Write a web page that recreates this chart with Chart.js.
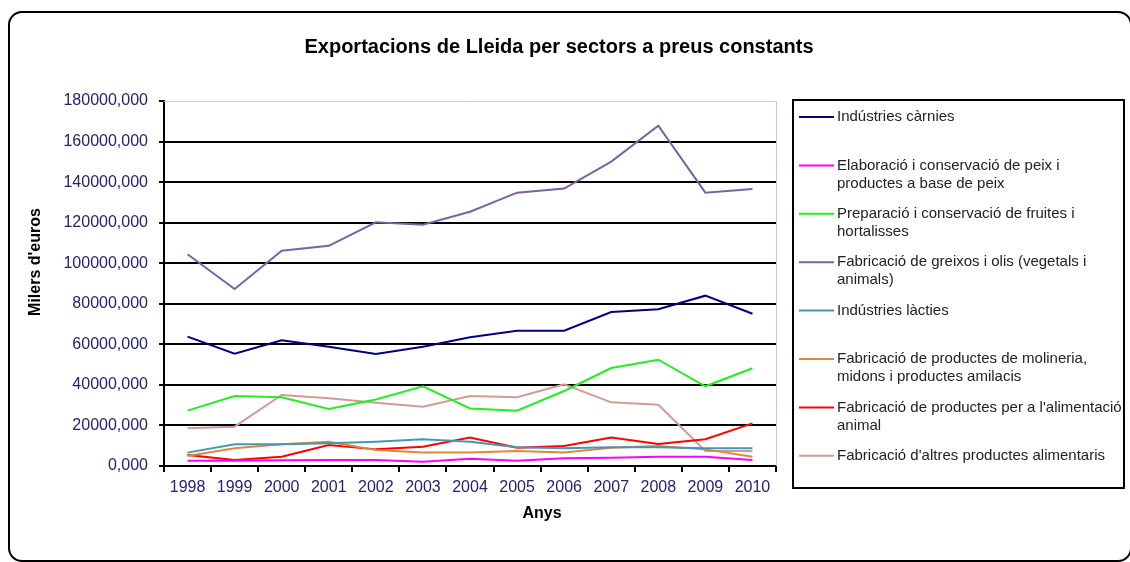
<!DOCTYPE html>
<html>
<head>
<meta charset="utf-8">
<script src="https://cdn.jsdelivr.net/npm/chart.js@4.4.1/dist/chart.umd.min.js"></script>
<style>
  body { margin: 0; background: #fff; }
  canvas { display: block; }
</style>
</head>
<body>
<canvas id="exportacions" width="1130" height="562"></canvas>
<script>
const anys = ['1998','1999','2000','2001','2002','2003','2004','2005','2006','2007','2008','2009','2010'];

// Milers d'euros, llegits del gràfic
const carnies     = [63800, 55400, 62000, 58800, 55200, 58800, 63500, 66700, 66700, 75900, 77300, 84000, 75100];
const peix        = [2600, 2600, 2800, 3000, 3000, 2100, 3600, 2600, 3800, 4100, 4600, 4600, 3000];
const fruites     = [27300, 34500, 33900, 28100, 32800, 39300, 28400, 27300, 37000, 48300, 52400, 39300, 48200];
const greixos     = [104400, 87300, 106200, 108600, 120200, 119000, 125400, 134800, 136800, 150100, 167800, 134800, 136600];
const lacties     = [6600, 10700, 10700, 11200, 12000, 13200, 12000, 9200, 8700, 9200, 9200, 8700, 8700];
const molineria   = [4900, 8700, 10700, 12000, 7900, 6700, 6600, 7400, 6700, 9000, 9900, 8200, 4600];
const alimentacio = [5400, 3000, 4600, 10400, 8200, 9500, 14000, 9000, 9900, 14000, 10800, 13200, 21000];
const altres      = [18600, 19400, 35000, 33400, 31200, 29200, 34500, 33900, 40300, 31400, 30200, 7400, 7400];

const yTicks = [0, 20000, 40000, 60000, 80000, 100000, 120000, 140000, 160000, 180000];

// etiquetes de la llegenda (una línia per element de l'array)
const legendLabels = [
  ['Indústries càrnies'],
  ['Elaboració i conservació de peix i', 'productes a base de peix'],
  ['Preparació i conservació de fruites i', 'hortalisses'],
  ['Fabricació de greixos i olis (vegetals i', 'animals)'],
  ['Indústries làcties'],
  ['Fabricació de productes de molineria,', 'midons i productes amilacis'],
  ["Fabricació de productes per a l'alimentació", 'animal'],
  ["Fabricació d'altres productes alimentaris"]
];
const colors = ['#000080', '#ff00ff', '#22ee22', '#7b62a0', '#4298b4', '#e0883a', '#ff0000', '#d49a98'];
const series = [carnies, peix, fruites, greixos, lacties, molineria, alimentacio, altres];

const datasets = series.map((d, i) => ({
  label: legendLabels[i].join(' '),
  data: d,
  borderColor: colors[i],
  backgroundColor: colors[i],
  borderWidth: 2,
  pointRadius: 0,
  tension: 0,
  fill: false
}));

const FONT = '"Liberation Sans", Arial, sans-serif';

// marc, títols, vora del gràfic i llegenda
const decor = {
  id: 'decor',
  beforeDraw(chart) {
    const ctx = chart.ctx;
    ctx.save();
    ctx.fillStyle = '#fff';
    ctx.fillRect(0, 0, chart.width, chart.height);
    ctx.restore();
  },
  afterDraw(chart) {
    const ctx = chart.ctx;
    const a = chart.chartArea;
    ctx.save();

    // marc arrodonit
    ctx.strokeStyle = '#000';
    ctx.lineWidth = 2;
    ctx.beginPath();
    ctx.roundRect(9, 12, 1122, 549, 13);
    ctx.stroke();

    // vora superior i dreta de l'àrea
    ctx.strokeStyle = '#c9c9dd';
    ctx.lineWidth = 1;
    ctx.beginPath();
    ctx.moveTo(a.left, a.top + 0.5);
    ctx.lineTo(a.right + 0.5, a.top + 0.5);
    ctx.lineTo(a.right + 0.5, a.bottom);
    ctx.stroke();

    // títol
    ctx.fillStyle = '#000';
    ctx.textAlign = 'center';
    ctx.textBaseline = 'middle';
    ctx.font = 'bold 20px ' + FONT;
    ctx.fillText('Exportacions de Lleida per sectors a preus constants', 559, 47);

    ctx.font = 'bold 16px ' + FONT;
    ctx.fillText('Anys', 542, 514);

    ctx.save();
    ctx.translate(36, 262);
    ctx.rotate(-Math.PI / 2);
    ctx.font = 'bold 16px ' + FONT;
    ctx.fillText("Milers d'euros", 0, 0);
    ctx.restore();

    // llegenda
    const bx = 793, by = 100, bw = 331, bh = 388;
    ctx.strokeStyle = '#000';
    ctx.lineWidth = 2;
    ctx.strokeRect(bx, by, bw, bh);
    ctx.save();
    ctx.beginPath();
    ctx.rect(bx, by, bw - 1, bh);
    ctx.clip();
    ctx.font = '15px ' + FONT;
    ctx.textAlign = 'left';
    legendLabels.forEach((lines, i) => {
      const y = 117 + i * 48.4;
      ctx.strokeStyle = colors[i];
      ctx.lineWidth = 2;
      ctx.beginPath();
      ctx.moveTo(799, y);
      ctx.lineTo(834, y);
      ctx.stroke();
      ctx.fillStyle = '#222';
      lines.forEach((t, j) => ctx.fillText(t, 837, y + j * 18));
    });
    ctx.restore();

    ctx.restore();
  }
};

new Chart(document.getElementById('exportacions'), {
  type: 'line',
  data: { labels: anys, datasets: datasets },
  plugins: [decor],
  options: {
    responsive: false,
    animation: false,
    layout: { padding: { top: 101, right: 354, left: 0, bottom: 0 } },
    plugins: {
      legend: { display: false },
      title: { display: false },
      tooltip: { enabled: false }
    },
    scales: {
      x: {
        offset: true,
        grid: {
          offset: true,
          drawOnChartArea: false,
          drawTicks: true,
          tickLength: 6,
          tickColor: '#000',
          lineWidth: 2
        },
        border: { color: '#000', width: 2 },
        ticks: {
          color: '#232370',
          font: { family: FONT, size: 16 },
          padding: 6,
          maxRotation: 0
        },
        afterFit(scale) { scale.height = 96; }
      },
      y: {
        min: 0,
        max: 180000,
        afterBuildTicks(scale) { scale.ticks = yTicks.map(v => ({ value: v })); },
        grid: {
          color: ctx => (ctx.tick && ctx.tick.value === 180000) ? 'rgba(0,0,0,0)' : '#000',
          tickColor: '#000',
          lineWidth: 2,
          tickLength: 5
        },
        border: { color: '#000', width: 2 },
        ticks: {
          color: '#232370',
          font: { family: FONT, size: 16 },
          padding: 11,
          callback: v => v + ',000'
        },
        afterFit(scale) { scale.width = 164; }
      }
    }
  }
});
</script>
</body>
</html>
